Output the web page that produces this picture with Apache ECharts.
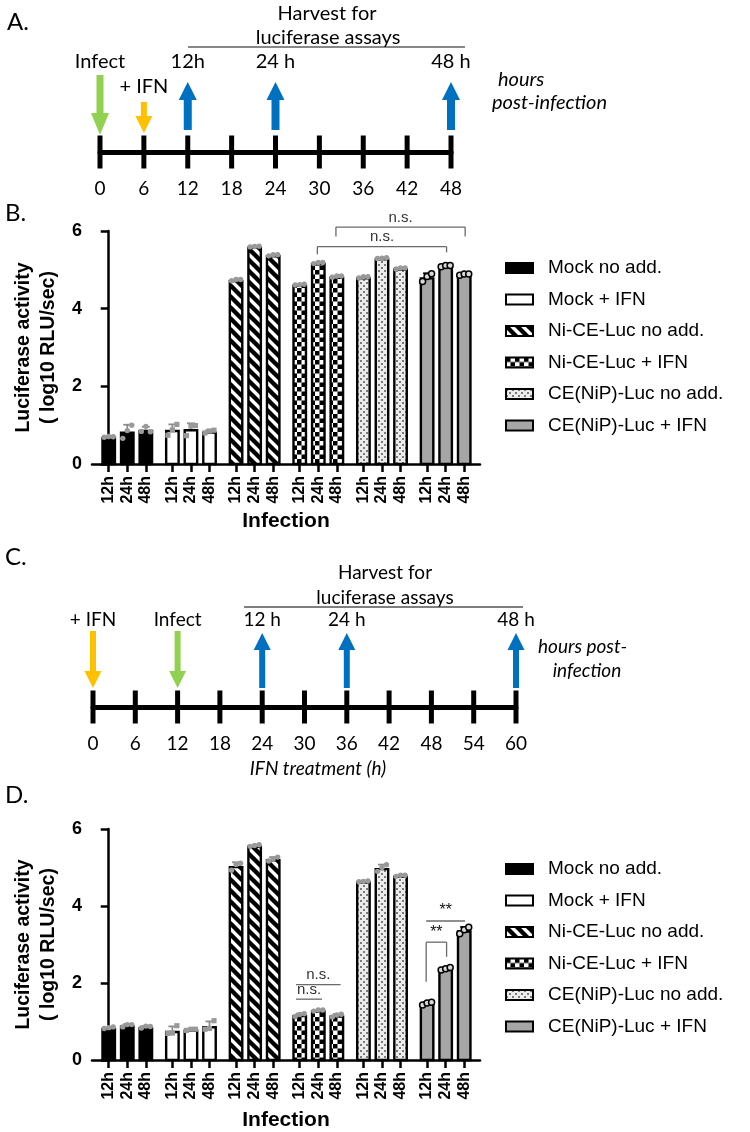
<!DOCTYPE html>
<html><head><meta charset="utf-8">
<script src="https://cdn.jsdelivr.net/npm/echarts@6.0.0/dist/echarts.min.js"></script>
<style>html,body{margin:0;padding:0;background:#fff}#c{width:750px;height:1132px}</style>
</head><body><div id="c"></div>
<script>
// ---------------- DATA ----------------
const groupNames = ['Mock no add.', 'Mock + IFN', 'Ni-CE-Luc no add.', 'Ni-CE-Luc + IFN', 'CE(NiP)-Luc no add.', 'CE(NiP)-Luc + IFN'];
const timeLabels = ['12h', '24h', '48h'];
const yTicks = [0, 2, 4, 6];

// Panel B (IFN added 6 h post infection) – bar heights (log10 RLU/sec)
const bMockNoAdd = [0.70, 0.84, 0.88];
const bMockIFN   = [0.88, 0.90, 0.84];
const bNiCENoAdd = [4.74, 5.60, 5.38];
const bNiCEIFN   = [4.62, 5.18, 4.83];
const bCENoAdd   = [4.81, 5.30, 5.04];
const bCEIFN     = [4.81, 5.10, 4.88];
// Panel B replicates
const bMockNoAddReps = [[0.69,0.71,0.70],[0.66,0.86,1.00],[0.84,0.97,0.83]];
const bMockIFNReps   = [[0.74,0.88,1.02],[0.73,0.98,0.99],[0.80,0.85,0.87]];
const bNiCENoAddReps = [[4.72,4.75,4.75],[5.59,5.60,5.61],[5.36,5.39,5.39]];
const bNiCEIFNReps   = [[4.61,4.62,4.63],[5.16,5.19,5.19],[4.81,4.84,4.84]];
const bCENoAddReps   = [[4.79,4.82,4.82],[5.29,5.30,5.31],[5.02,5.05,5.05]];
const bCEIFNReps     = [[4.70,4.83,4.90],[5.08,5.11,5.11],[4.86,4.89,4.89]];

// Panel D (IFN pre-treatment 12 h before infection)
const dMockNoAdd = [0.84, 0.90, 0.86];
const dMockIFN   = [0.76, 0.79, 0.88];
const dNiCENoAdd = [5.04, 5.57, 5.22];
const dNiCEIFN   = [1.17, 1.29, 1.16];
const dCENoAdd   = [4.64, 4.99, 4.79];
const dCEIFN     = [1.47, 2.37, 3.37];
const dMockNoAddReps = [[0.82,0.84,0.86],[0.86,0.92,0.92],[0.83,0.88,0.87]];
const dMockIFNReps   = [[0.69,0.70,0.89],[0.77,0.80,0.80],[0.80,0.82,1.02]];
const dNiCENoAddReps = [[4.93,5.08,5.11],[5.55,5.57,5.59],[5.17,5.22,5.27]];
const dNiCEIFNReps   = [[1.13,1.18,1.20],[1.27,1.30,1.30],[1.12,1.17,1.19]];
const dCENoAddReps   = [[4.63,4.64,4.65],[4.90,5.00,5.07],[4.77,4.80,4.80]];
const dCEIFNReps     = [[1.43,1.48,1.50],[2.34,2.37,2.40],[3.28,3.38,3.45]];

// Significance annotations: [group, time] from/to, level (log10), leg ends
const sigB = [
  {from:[3,1], to:[5,1], y:5.60, legFrom:5.40, legTo:5.45, text:'n.s.', kind:'bracket'},
  {from:[3,2], to:[5,2], y:6.10, legFrom:5.86, legTo:5.86, text:'n.s.', kind:'bracket'}
];
const sigD = [
  {from:[3,0], to:[3,2], y:1.96, legFrom:null, legTo:null, text:'n.s.', kind:'line'},
  {from:[3,0], to:[3,1], y:1.58, legFrom:null, legTo:null, text:'n.s.', kind:'line'},
  {from:[5,0], to:[5,1], y:3.06, legFrom:2.03, legTo:2.68, text:'**', kind:'bracket'},
  {from:[5,0], to:[5,2], y:3.61, legFrom:null, legTo:null, text:'**', kind:'bracket'}
];

// Timelines
const timelineATicks = [0, 6, 12, 18, 24, 30, 36, 42, 48];
const timelineAEvents = [
  {hour:0,  label:'Infect', kind:'infect'},
  {hour:6,  label:'+ IFN',  kind:'ifn'},
  {hour:12, label:'12h',    kind:'harvest'},
  {hour:24, label:'24 h',   kind:'harvest'},
  {hour:48, label:'48 h',   kind:'harvest'}
];
const timelineCTicks = [0, 6, 12, 18, 24, 30, 36, 42, 48, 54, 60];
const timelineCEvents = [
  {hour:0,  label:'+ IFN',  kind:'ifn'},
  {hour:12, label:'Infect', kind:'infect'},
  {hour:24, label:'12 h',   kind:'harvest'},
  {hour:36, label:'24 h',   kind:'harvest'},
  {hour:60, label:'48 h',   kind:'harvest'}
];

// ---------------- STYLE / LAYOUT ----------------
const SANS = '"Liberation Sans", Arial, sans-serif';
const CAL = 'Lato, "Open Sans", sans-serif';
const GROUP_STEP = 3.43;
function pos(g, t) { return g * GROUP_STEP + t; }

function tile(w, h, fn) { const c = document.createElement('canvas'); c.width = w; c.height = h; fn(c.getContext('2d'), w, h); return c; }
const stripeTile = tile(11, 11, (x, w, h) => {
  x.fillStyle = '#fff'; x.fillRect(0, 0, w, h);
  x.strokeStyle = '#000'; x.lineWidth = 4.4; x.beginPath();
  for (let k = -1; k <= 1; k++) { x.moveTo(k * w - 3, -3); x.lineTo(k * w + w + 3, h + 3); }
  x.stroke();
});
const checkerTile = tile(9, 9, (x, w, h) => {
  x.fillStyle = '#fff'; x.fillRect(0, 0, w, h);
  x.fillStyle = '#000'; x.fillRect(0, 0, 4.5, 4.5); x.fillRect(4.5, 4.5, 4.5, 4.5);
});
const dotTile = tile(6, 6, (x, w, h) => {
  x.fillStyle = '#ececec'; x.fillRect(0, 0, w, h);
  x.fillStyle = '#7a7a7a'; x.fillRect(0, 0, 2, 2); x.fillRect(3, 3, 2, 2);
});
const fills = ['#000', '#fff', {image: stripeTile, repeat: 'repeat'}, {image: checkerTile, repeat: 'repeat'}, {image: dotTile, repeat: 'repeat'}, '#a6a6a6'];
const arrowColors = {infect: '#92D050', ifn: '#FFC000', harvest: '#0070C0'};

function txt(o) {
  return Object.assign({align: o.textAlign, verticalAlign: o.textVerticalAlign}, o);
}

const barPositions = [];
const posLabel = {};
for (let g = 0; g < 6; g++) for (let t = 0; t < 3; t++) { const p = pos(g, t); barPositions.push(p); posLabel[Math.round(p * 100)] = timeLabels[t]; }

function makeBarSeries(g, means, reps, axisIdx) {
  return {
    type: 'custom', name: groupNames[g], xAxisIndex: axisIdx, yAxisIndex: axisIdx, z: 3, silent: true,
    encode: {x: 0, y: 1},
    data: means.map((m, t) => [pos(g, t), m, t]),
    renderItem: (params, api) => {
      const p = api.value(0), v = api.value(1), t = api.value(2);
      const b = api.coord([p, 0]), tp = api.coord([p, v]);
      const w = api.size([1, 0])[0] * 0.8, lw = 2.4;
      const ch = [{type: 'rect', shape: {x: b[0] - w / 2 + lw / 2, y: tp[1] + lw / 2, width: w - lw, height: b[1] - tp[1] - lw / 2},
        style: {fill: fills[g], stroke: '#000', lineWidth: lw}}];
      const r = reps[t];
      const mean = r.reduce((a, c) => a + c, 0) / r.length;
      const sd = Math.sqrt(r.reduce((a, c) => a + (c - mean) * (c - mean), 0) / (r.length - 1));
      const et = api.coord([p, v + sd]);
      const ec = g === 5 ? '#000' : '#8c8c8c';
      if (et[1] < tp[1] - 1) {
        ch.push({type: 'line', shape: {x1: b[0], y1: tp[1], x2: b[0], y2: et[1]}, style: {stroke: ec, lineWidth: 1.8}});
        ch.push({type: 'line', shape: {x1: b[0] - 4, y1: et[1], x2: b[0] + 4, y2: et[1]}, style: {stroke: ec, lineWidth: 1.8}});
      }
      r.forEach((val, i) => {
        const c = api.coord([p, val]);
        const cx = b[0] + (i - 1) * 4.5;
        if (g === 5) ch.push({type: 'circle', shape: {cx: cx, cy: c[1], r: 3}, style: {fill: '#d8d8d8', stroke: '#000', lineWidth: 1.5}});
        else if (g === 1) ch.push({type: 'rect', shape: {x: cx - 2.6, y: c[1] - 2.6, width: 5.2, height: 5.2}, style: {fill: '#999'}});
        else ch.push({type: 'circle', shape: {cx: cx, cy: c[1], r: 2.7}, style: {fill: '#999'}});
      });
      return {type: 'group', children: ch};
    }
  };
}

function makeSigSeries(sigs, axisIdx) {
  return {
    type: 'custom', xAxisIndex: axisIdx, yAxisIndex: axisIdx, z: 10, silent: true,
    data: sigs.map(s => [pos(s.from[0], s.from[1]), s.y]),
    renderItem: (params, api) => {
      const s = sigs[params.dataIndex];
      const pad = s.kind === 'line' ? 0.2 : 0.05;
      const a = api.coord([pos(s.from[0], s.from[1]) - pad, s.y]);
      const b = api.coord([pos(s.to[0], s.to[1]) + pad, s.y]);
      const col = '#6a6a6a';
      const ch = [{type: 'line', shape: {x1: a[0], y1: a[1], x2: b[0], y2: b[1]}, style: {stroke: col, lineWidth: 1.3}}];
      if (s.legFrom != null) { const l = api.coord([0, s.legFrom]); ch.push({type: 'line', shape: {x1: a[0], y1: a[1], x2: a[0], y2: l[1]}, style: {stroke: col, lineWidth: 1.3}}); }
      if (s.legTo != null) { const l = api.coord([0, s.legTo]); ch.push({type: 'line', shape: {x1: b[0], y1: b[1], x2: b[0], y2: l[1]}, style: {stroke: col, lineWidth: 1.3}}); }
      ch.push({type: 'text', style: txt({text: s.text, x: (a[0] + b[0]) / 2, y: a[1] - 2, textAlign: 'center', textVerticalAlign: 'bottom',
        font: (s.text === '**' ? '16px ' : '15px ') + SANS, fill: s.text === '**' ? '#111' : '#333'})});
      return {type: 'group', children: ch};
    }
  };
}

function makeTimelineTicks(ticks, axisIdx) {
  return {type: 'scatter', xAxisIndex: axisIdx, yAxisIndex: axisIdx, silent: true, z: 4, clip: false,
    symbol: 'rect', symbolSize: [5, 33], itemStyle: {color: '#000', opacity: 1},
    data: ticks.map(h => [h, 0])};
}

function makeArrowSeries(events, geo, axisIdx) {
  return {
    type: 'custom', xAxisIndex: axisIdx, yAxisIndex: axisIdx, silent: true, z: 5, clip: false,
    data: events.map(e => [e.hour, 0]),
    renderItem: (params, api) => {
      const e = events[params.dataIndex], g = geo[e.kind];
      const c = api.coord([api.value(0), 0]);
      const x = c[0], y0 = c[1], sw = g.shaft, hw = g.headW, hl = g.headL;
      const t0 = y0 - g.tail, tip = y0 - g.tip;
      const s = g.dir === 'down' ? 1 : -1;
      const pts = [[x - sw / 2, t0], [x + sw / 2, t0], [x + sw / 2, tip - s * hl], [x + hw / 2, tip - s * hl], [x, tip], [x - hw / 2, tip - s * hl], [x - sw / 2, tip - s * hl]];
      return {type: 'group', children: [
        {type: 'polygon', shape: {points: pts}, style: {fill: arrowColors[e.kind]}},
        {type: 'text', style: txt({text: e.label, x: x, y: y0 - g.label, textAlign: 'center', textVerticalAlign: 'middle', font: g.font, fill: '#000'})}
      ]};
    }
  };
}

const geoA = {
  infect:  {dir: 'down', tail: 77, tip: 17, shaft: 7, headW: 18, headL: 22, label: 90, font: '20px ' + CAL},
  ifn:     {dir: 'down', tail: 50, tip: 19, shaft: 6, headW: 17, headL: 17, label: 65, font: '20px ' + CAL},
  harvest: {dir: 'up',   tail: 22, tip: 70, shaft: 8, headW: 18, headL: 18, label: 90, font: '20px ' + CAL}
};
const geoC = {
  infect:  {dir: 'down', tail: 76, tip: 19, shaft: 6, headW: 17, headL: 17, label: 87, font: '19px ' + CAL},
  ifn:     {dir: 'down', tail: 76, tip: 19, shaft: 6, headW: 17, headL: 17, label: 87, font: '19px ' + CAL},
  harvest: {dir: 'up',   tail: 19, tip: 74, shaft: 6, headW: 17, headL: 17, label: 87, font: '19px ' + CAL}
};

function timelineX(gridIdx, max) {
  return {type: 'value', gridIndex: gridIdx, min: 0, max: max, interval: 6,
    axisLine: {onZero: false, lineStyle: {color: '#000', width: 5}}, axisTick: {show: false}, splitLine: {show: false},
    axisLabel: {color: '#000', fontSize: 19, fontFamily: CAL, margin: 27}};
}
function timelineY(gridIdx) { return {type: 'value', gridIndex: gridIdx, min: 0, max: 1, show: false}; }

function barX(gridIdx, gap) {
  return {type: 'value', gridIndex: gridIdx, min: -0.9, max: 20,
    name: 'Infection', nameLocation: 'middle', nameGap: gap,
    nameTextStyle: {fontSize: 21, fontWeight: 'bold', fontFamily: SANS, color: '#000'},
    axisLine: {onZero: false, lineStyle: {color: '#000', width: 2.5}},
    axisTick: {customValues: barPositions, length: 8, lineStyle: {color: '#000', width: 2.5}},
    axisLabel: {customValues: barPositions, rotate: 90, margin: 12, fontSize: 16, fontWeight: 'bold', fontFamily: SANS, color: '#000',
      formatter: v => posLabel[Math.round(v * 100)] || ''},
    splitLine: {show: false}};
}
function barY(gridIdx) {
  return {type: 'value', gridIndex: gridIdx, min: 0, max: 6, interval: 2,
    name: 'Luciferase activity\n( log10 RLU/sec)', nameLocation: 'middle', nameGap: 31,
    nameTextStyle: {fontSize: 19.5, fontWeight: 'bold', fontFamily: SANS, color: '#000', lineHeight: 25},
    axisLine: {show: true, lineStyle: {color: '#000', width: 2.5}},
    axisTick: {show: true, length: 8, lineStyle: {color: '#000', width: 2.5}},
    axisLabel: {margin: 10, fontSize: 18, fontWeight: 'bold', fontFamily: SANS, color: '#000'},
    splitLine: {show: false}};
}

function legendFor(top) {
  return {orient: 'vertical', left: 505, top: top, itemWidth: 27, itemHeight: 10, itemGap: 11.5, padding: 0,
    selectedMode: false, icon: 'rect',
    textStyle: {fontSize: 19, fontFamily: SANS, color: '#000', lineHeight: 20, padding: [0, 0, 0, 10]},
    data: groupNames.map((n, g) => ({name: n, itemStyle: {color: fills[g], borderColor: '#000', borderWidth: 2}}))};
}

function T(text, x, y, font, align, fill) {
  return {type: 'text', x: x, y: y, silent: true, style: txt({text: text, font: font, textAlign: align || 'center', textVerticalAlign: 'middle', fill: fill || '#000'})};
}

const bMeans = [bMockNoAdd, bMockIFN, bNiCENoAdd, bNiCEIFN, bCENoAdd, bCEIFN];
const bReps = [bMockNoAddReps, bMockIFNReps, bNiCENoAddReps, bNiCEIFNReps, bCENoAddReps, bCEIFNReps];
const dMeans = [dMockNoAdd, dMockIFN, dNiCENoAdd, dNiCEIFN, dCENoAdd, dCEIFN];
const dReps = [dMockNoAddReps, dMockIFNReps, dNiCENoAddReps, dNiCEIFNReps, dCENoAddReps, dCEIFNReps];

const series = [
  makeTimelineTicks(timelineATicks, 0),
  makeArrowSeries(timelineAEvents, geoA, 0),
  makeTimelineTicks(timelineCTicks, 2),
  makeArrowSeries(timelineCEvents, geoC, 2)
];
for (let g = 0; g < 6; g++) series.push(makeBarSeries(g, bMeans[g], bReps[g], 1));
for (let g = 0; g < 6; g++) series.push(makeBarSeries(g, dMeans[g], dReps[g], 3));
series.push(makeSigSeries(sigB, 1));
series.push(makeSigSeries(sigD, 3));

const option = {
  animation: false,
  backgroundColor: '#fff',
  grid: [
    {left: 100, top: 120, width: 351, height: 32},
    {left: 92, top: 231, width: 388, height: 233},
    {left: 93, top: 675, width: 423, height: 32},
    {left: 92, top: 829, width: 388, height: 233}
  ],
  xAxis: [timelineX(0, 48), barX(1, 47), timelineX(2, 60), barX(3, 50)],
  yAxis: [timelineY(0), barY(1), timelineY(2), barY(3)],
  legend: [legendFor(258), legendFor(859)],
  graphic: [
    T('A.', 7, 22, '24px ' + CAL, 'left'),
    T('Harvest for', 327, 14, '20px ' + CAL),
    T('luciferase assays', 328, 38, '20px ' + CAL),
    {type: 'line', silent: true, shape: {x1: 188, y1: 47, x2: 465, y2: 47}, style: {stroke: '#111', lineWidth: 1.2}},
    T('hours', 498, 80, 'italic 20px ' + CAL, 'left'),
    T('post-infection', 492, 103, 'italic 20px ' + CAL, 'left'),
    T('B.', 5, 213, '24px ' + CAL, 'left'),
    T('C.', 5, 557, '24px ' + CAL, 'left'),
    T('Harvest for', 385, 573, '19px ' + CAL),
    T('luciferase assays', 385, 598, '19px ' + CAL),
    {type: 'line', silent: true, shape: {x1: 244, y1: 607, x2: 523, y2: 607}, style: {stroke: '#555', lineWidth: 1.5}},
    T('hours post-', 538, 647, 'italic 19px ' + CAL, 'left'),
    T('infection', 587, 671, 'italic 19px ' + CAL),
    T('IFN treatment (h)', 318, 769, 'italic 19px ' + CAL),
    T('D.', 5, 795, '24px ' + CAL, 'left')
  ],
  series: series
};

const chart = echarts.init(document.getElementById('c'), null, {renderer: 'canvas'});
chart.setOption(option);
</script>
</body></html>
